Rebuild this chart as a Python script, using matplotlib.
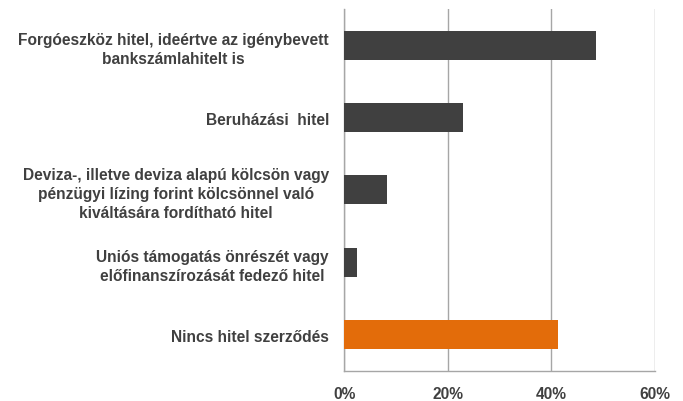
import matplotlib
matplotlib.use("Agg")
import matplotlib.pyplot as plt
from matplotlib.ticker import PercentFormatter

categories = [
    "Forgóeszköz hitel, ideértve az igénybevett\nbankszámlahitelt is",
    "Beruházási  hitel",
    "Deviza-, illetve deviza alapú kölcsön vagy\npénzügyi lízing forint kölcsönnel való\nkiváltására fordítható hitel",
    "Uniós támogatás önrészét vagy\nelőfinanszírozását fedező hitel",
    "Nincs hitel szerződés",
]
values = [48.7, 22.9, 8.2, 2.5, 41.3]
colors = ["#404040", "#404040", "#404040", "#404040", "#E36C0A"]
xticks = [0, 20, 40, 60]

plt.rcParams["font.family"] = ["Liberation Sans", "DejaVu Sans"]

fig = plt.figure(figsize=(6.83, 4.02), dpi=100)
ax = fig.add_axes([0.504, 0.075, 0.455, 0.90])

pos = list(range(len(categories)))
ax.barh(pos, values, height=0.4, color=colors, zorder=3)
ax.set_ylim(len(categories) - 0.5, -0.5)
ax.set_xlim(0, 60)
ax.set_xticks(xticks)
ax.xaxis.set_major_formatter(PercentFormatter(decimals=0))
ax.set_yticks(pos)
ax.set_yticklabels(categories, fontsize=11.2, fontweight="bold", color="#404040",
                   linespacing=1.35)
for lbl in ax.get_yticklabels():
    lbl.set_horizontalalignment("right")
    lbl.set_multialignment("center")
ax.tick_params(axis="y", length=0, pad=11)
ax.tick_params(axis="x", length=0, pad=11, labelsize=11.2, labelcolor="#404040")
for lbl in ax.get_xticklabels():
    lbl.set_fontweight("bold")

ax.grid(axis="x", color="#A6A6A6", linewidth=1, zorder=0)
for s in ["top", "right"]:
    ax.spines[s].set_visible(False)
for s in ["left", "bottom"]:
    ax.spines[s].set_color("#A6A6A6")
    ax.spines[s].set_linewidth(1)

fig.savefig("out.png", dpi=100)
